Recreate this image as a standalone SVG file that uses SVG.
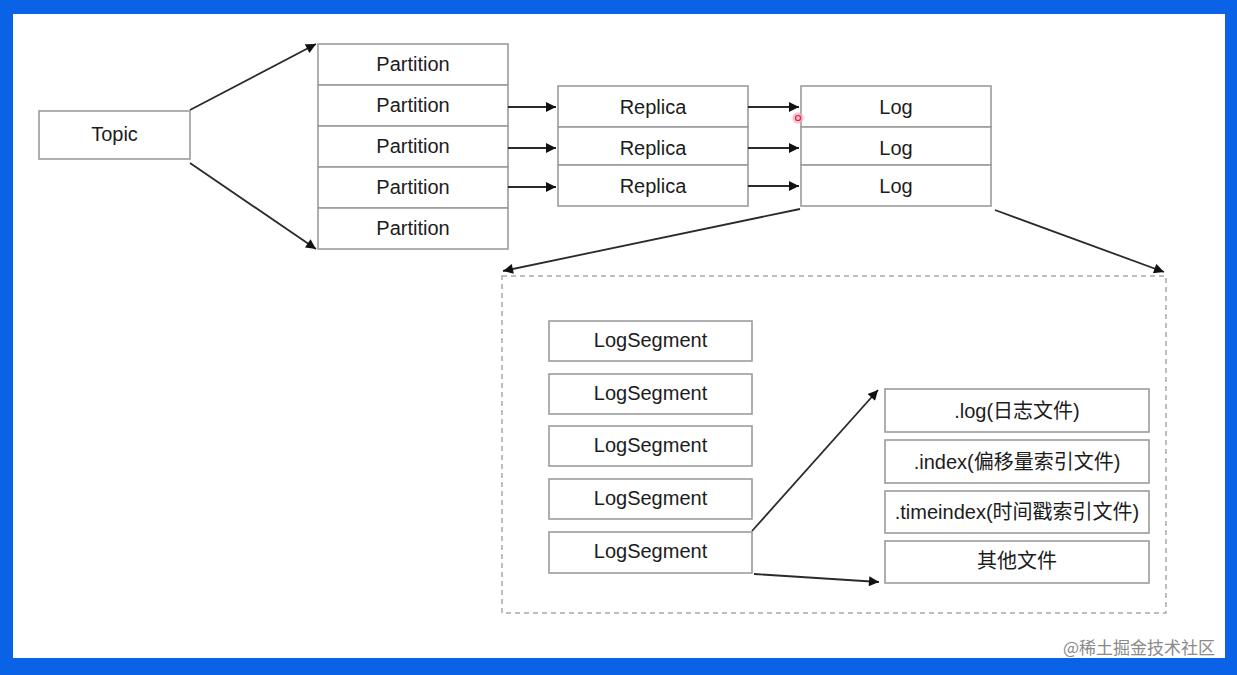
<svg xmlns="http://www.w3.org/2000/svg" width="1237" height="675" viewBox="0 0 1237 675">
<defs>
<style>
.box{fill:#fff;stroke:#9c9c9c;stroke-width:1.6}
.t{font-family:"Liberation Sans","Noto Sans CJK SC",sans-serif;font-size:20px;fill:#1c1c1c;text-anchor:middle;dominant-baseline:central}
.ln{stroke:#2a2a2a;stroke-width:1.8;fill:none;marker-end:url(#ah)}
</style>
<marker id="ah" viewBox="0 0 10 10" refX="10" refY="5" markerWidth="11" markerHeight="10" markerUnits="userSpaceOnUse" orient="auto">
<path d="M0,0 L10,5 L0,10 z" fill="#111"/>
</marker>
</defs>
<rect x="0" y="0" width="1237" height="675" fill="#0a62e6"/>
<rect x="13" y="14" width="1212" height="644" fill="#fff"/>

<g id="topic"><rect class="box" x="39" y="111" width="151" height="48"/><text class="t" x="114.5" y="134">Topic</text></g>

<g id="partitions">
<g id="p1"><rect class="box" x="318" y="44" width="190" height="41"/><text class="t" x="413" y="64">Partition</text></g>
<g id="p2"><rect class="box" x="318" y="85" width="190" height="41"/><text class="t" x="413" y="105">Partition</text></g>
<g id="p3"><rect class="box" x="318" y="126" width="190" height="41"/><text class="t" x="413" y="146">Partition</text></g>
<g id="p4"><rect class="box" x="318" y="167" width="190" height="41"/><text class="t" x="413" y="187">Partition</text></g>
<g id="p5"><rect class="box" x="318" y="208" width="190" height="41"/><text class="t" x="413" y="228">Partition</text></g>
</g>

<g id="replicas">
<g id="r1"><rect class="box" x="558" y="86" width="190" height="41"/><text class="t" x="653" y="107">Replica</text></g>
<g id="r2"><rect class="box" x="558" y="127" width="190" height="38"/><text class="t" x="653" y="148">Replica</text></g>
<g id="r3"><rect class="box" x="558" y="165" width="190" height="41"/><text class="t" x="653" y="186">Replica</text></g>
</g>

<g id="logs">
<g id="l1"><rect class="box" x="801" y="86" width="190" height="41"/><text class="t" x="896" y="107">Log</text></g>
<g id="l2"><rect class="box" x="801" y="127" width="190" height="38"/><text class="t" x="896" y="148">Log</text></g>
<g id="l3"><rect class="box" x="801" y="165" width="190" height="41"/><text class="t" x="896" y="186">Log</text></g>
</g>

<g id="container"><rect x="502" y="276" width="664" height="337" fill="none" stroke="#a8a8a8" stroke-width="1.5" stroke-dasharray="5,4"/></g>

<g id="segments">
<g id="s1"><rect class="box" x="549" y="321" width="203" height="40"/><text class="t" x="650.5" y="340">LogSegment</text></g>
<g id="s2"><rect class="box" x="549" y="374" width="203" height="40"/><text class="t" x="650.5" y="393">LogSegment</text></g>
<g id="s3"><rect class="box" x="549" y="426" width="203" height="40"/><text class="t" x="650.5" y="445">LogSegment</text></g>
<g id="s4"><rect class="box" x="549" y="479" width="203" height="40"/><text class="t" x="650.5" y="498">LogSegment</text></g>
<g id="s5"><rect class="box" x="549" y="532" width="203" height="41"/><text class="t" x="650.5" y="551">LogSegment</text></g>
</g>

<g id="files">
<g id="f1"><rect class="box" x="885" y="389" width="264" height="43"/><text class="t" x="1017" y="411">.log(日志文件)</text></g>
<g id="f2"><rect class="box" x="885" y="440" width="264" height="43"/><text class="t" x="1017" y="462">.index(偏移量索引文件)</text></g>
<g id="f3"><rect class="box" x="885" y="491" width="264" height="42"/><text class="t" x="1017" y="512">.timeindex(时间戳索引文件)</text></g>
<g id="f4"><rect class="box" x="885" y="541" width="264" height="42"/><text class="t" x="1017" y="561">其他文件</text></g>
</g>

<g id="connectors">
<line class="ln" x1="190" y1="110" x2="316" y2="44"/>
<line class="ln" x1="190" y1="163" x2="316" y2="249"/>
<line class="ln" x1="508" y1="107" x2="556" y2="107"/>
<line class="ln" x1="508" y1="148" x2="556" y2="148"/>
<line class="ln" x1="508" y1="187" x2="556" y2="187"/>
<line class="ln" x1="748" y1="107" x2="799" y2="107"/>
<line class="ln" x1="748" y1="148" x2="799" y2="148"/>
<line class="ln" x1="748" y1="186" x2="799" y2="186"/>
<line class="ln" x1="800" y1="209" x2="503" y2="271"/>
<line class="ln" x1="995" y1="210" x2="1164" y2="272"/>
<line class="ln" x1="752" y1="531" x2="878" y2="390"/>
<line class="ln" x1="754" y1="574" x2="879" y2="582"/>
</g>

<circle cx="798" cy="118" r="5.5" fill="#f7a5b5" opacity="0.7"/>
<circle cx="798" cy="118" r="2.5" fill="none" stroke="#d8254a" stroke-width="1.2"/>

<text x="1215" y="646" font-family="'Noto Sans CJK SC',sans-serif" font-size="17" fill="#8a8a8a" text-anchor="end" dominant-baseline="central">@稀土掘金技术社区</text>
</svg>
